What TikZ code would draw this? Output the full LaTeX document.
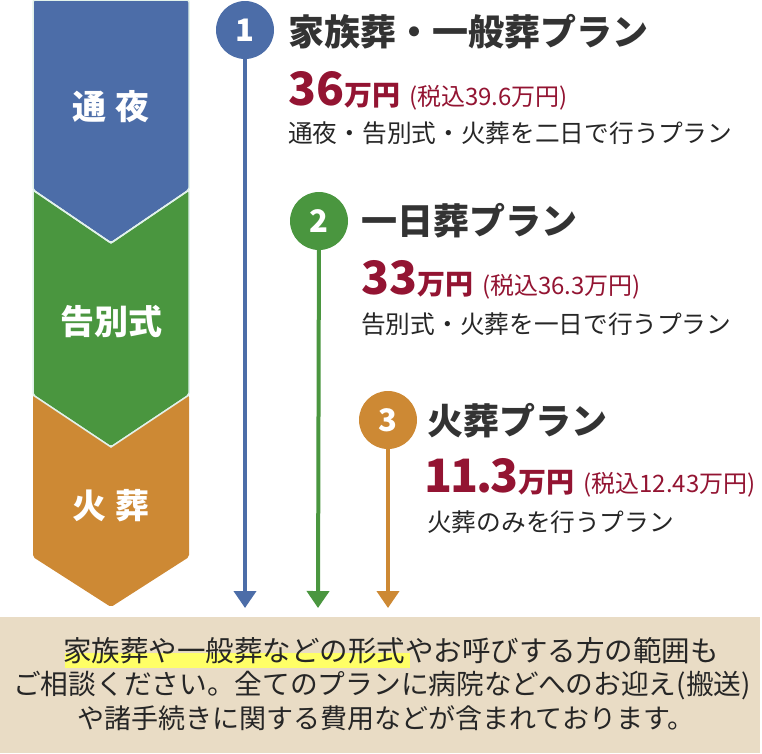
\documentclass[tikz,border=0pt]{standalone}
\usepackage{fontspec}
\setmainfont{Noto Sans CJK JP}
\usetikzlibrary{arrows.meta}

\definecolor{tsuya}{HTML}{4C6DA8}
\definecolor{kokubetsu}{HTML}{4A963F}
\definecolor{kaso}{HTML}{CD8934}
\definecolor{mint}{HTML}{E2F2EB}
\definecolor{ttl}{HTML}{333333}
\definecolor{price}{HTML}{931432}
\definecolor{txt}{HTML}{262626}
\definecolor{beige}{HTML}{E9DCC5}
\definecolor{hilite}{HTML}{FFFF66}

\newcommand\pricetag[2]{{\fontsize{46}{46}\selectfont\bfseries #1}{\fontsize{28}{28}\selectfont\bfseries 万円}{\fontsize{24}{24}\selectfont\hspace{9pt}(税込#2万円)}}

\begin{document}
\begin{tikzpicture}[x=1pt,y=-1pt,>={Triangle[width=22pt,length=17pt]},
  stage/.style={draw=mint,line width=1.5pt,rounded corners=2pt},
  stage label/.style={text=white,font=\fontsize{34}{34}\selectfont\bfseries},
  num node/.style={circle,minimum size=58pt,inner sep=0pt,text=white,font=\fontsize{31}{31}\selectfont\bfseries},
  title node/.style={anchor=west,inner sep=0pt,text=ttl,font=\fontsize{36}{36}\selectfont\bfseries},
  price node/.style={anchor=base west,inner sep=0pt,text=price},
  desc node/.style={anchor=west,inner sep=0pt,text=txt,font=\fontsize{24.7}{25}\selectfont},
  note node/.style={inner sep=0pt,text=txt},
  flow/.style={line width=4pt,->}]

  \useasboundingbox (0,0) rectangle (762,753);

  % stages on the left
  \fill[stage,fill=tsuya] (33,0) -- (189,0) -- (189,190) -- (111,243) -- (33,190) -- cycle;
  \fill[stage,fill=kokubetsu] (33,190) -- (111,243) -- (189,190) -- (189,395) -- (111,447) -- (33,395) -- cycle;
  \fill[kaso,rounded corners=2pt] (33,395) -- (111,447) -- (189,395) -- (189,557) -- (111,607) -- (33,557) -- cycle;
  \draw[mint,line width=1.5pt] (33,190) -- (111,243) -- (189,190);
  \draw[mint,line width=1.5pt] (33,395) -- (111,447) -- (189,395);
  \node[stage label] (s1) at (111,107) {通\hspace{10pt}夜};
  \node[stage label] (s2) at (111,322) {告別式};
  \node[stage label] (s3) at (111,506) {火\hspace{10pt}葬};

  % plans
  \node[num node,fill=tsuya] (c1) at (245,30) {1};
  \node[num node,fill=kokubetsu] (c2) at (319,221) {2};
  \node[num node,fill=kaso] (c3) at (388,420) {3};
  \coordinate (e1) at (245,608);
  \coordinate (e2) at (318,608);
  \coordinate (e3) at (388,608);
  \draw[flow,tsuya] (c1) -- (e1);
  \draw[flow,kokubetsu] (c2) -- (e2);
  \draw[flow,kaso] (c3) -- (e3);

  \node[title node] (t1) at (288,32) {家族葬・一般葬プラン};
  \node[price node] (p1) at (288,105) {\pricetag{36}{39.6}};
  \node[desc node] (d1) at (288,133) {通夜・告別式・火葬を二日で行うプラン};

  \node[title node] (t2) at (361,221) {一日葬プラン};
  \node[price node] (p2) at (361,294) {\pricetag{33}{36.3}};
  \node[desc node] (d2) at (361,324) {告別式・火葬を一日で行うプラン};

  \node[title node] (t3) at (427,421) {火葬プラン};
  \node[price node] (p3) at (424,492) {\pricetag{1\kern-2pt 1\kern-2pt.\kern-2pt 3}{12.43}};
  \node[desc node] (d3) at (427,522) {火葬のみを行うプラン};

  % note at the bottom
  \fill[beige] (0,617) rectangle (760,753);
  \fill[hilite] (65,653) rectangle (410,668);
  \node[note node,font=\fontsize{28.5}{28.5}\selectfont] (n1) at (391,651) {家族葬や一般葬などの形式やお呼びする方の範囲も};
  \node[note node,font=\fontsize{27.7}{27.7}\selectfont] (n2) at (382,686) {ご相談ください。全てのプランに病院などへのお迎え(搬送)};
  \node[note node,font=\fontsize{27}{27}\selectfont] (n3) at (386,718) {や諸手続きに関する費用などが含まれております。};

\end{tikzpicture}
\end{document}
